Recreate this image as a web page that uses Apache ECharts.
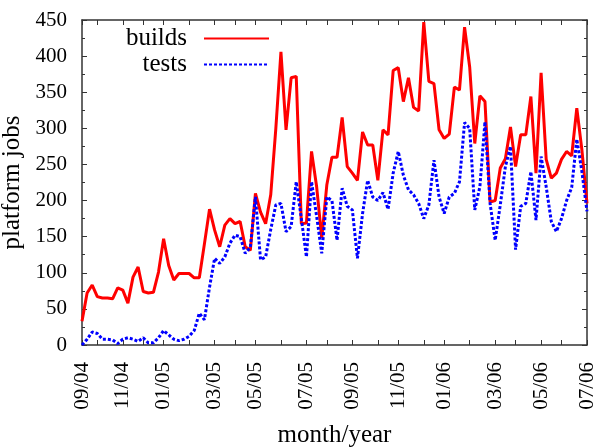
<!DOCTYPE html>
<html>
<head>
<meta charset="utf-8">
<script src="https://cdn.jsdelivr.net/npm/echarts@6/dist/echarts.min.js"></script>
<style>
  html, body { margin: 0; padding: 0; background: #fff; }
  #chart { width: 595px; height: 447px; }
</style>
</head>
<body>
<div id="chart"></div>
<script>
// weekly job counts, 09/04 .. 07/06
var builds = [33, 72, 83, 67, 65, 65, 64, 79, 76, 58,
  94, 108, 74, 72, 73, 101, 147, 110, 90, 99,
  99, 99, 93, 93, 140, 188, 159, 136, 166, 175,
  168, 171, 136, 131, 210, 184, 168, 208, 300, 406,
  298, 370, 372, 168, 169, 268, 219, 148, 222, 260,
  260, 315, 247, 238, 228, 295, 277, 277, 228, 298,
  291, 380, 384, 337, 370, 329, 324, 447, 365, 362,
  298, 286, 292, 357, 353, 440, 385, 279, 345, 337,
  198, 200, 245, 258, 302, 247, 291, 291, 344, 238,
  377, 257, 231, 238, 257, 268, 262, 328, 270, 196];

var tests = [0, 8, 18, 16, 8, 8, 7, 2, 8, 10,
  8, 5, 10, 3, 3, 10, 20, 14, 8, 6,
  8, 12, 20, 44, 35, 80, 120, 113, 122, 141,
  152, 150, 127, 135, 205, 118, 122, 160, 194, 196,
  157, 164, 226, 175, 122, 226, 178, 127, 205, 200,
  145, 217, 192, 187, 120, 182, 228, 205, 200, 211,
  188, 238, 268, 235, 215, 208, 196, 175, 194, 256,
  205, 182, 205, 210, 226, 308, 300, 187, 219, 309,
  196, 145, 194, 247, 275, 132, 192, 196, 240, 173,
  261, 219, 171, 157, 175, 200, 218, 285, 240, 185];

// week index where each month starts, and its label
var monthTickIdx = [0, 3, 8, 12, 16, 21, 26, 30, 34, 39, 44, 48,
  53, 58, 62, 67, 71, 76, 81, 85, 90, 94, 99];
var monthTickLabels = ['09/04', '10/04', '11/04', '12/04', '01/05', '02/05',
  '03/05', '04/05', '05/05', '06/05', '07/05', '08/05', '09/05', '10/05',
  '11/05', '12/05', '01/06', '02/06', '03/06', '04/06', '05/06', '06/06', '07/06'];

var weeks = builds.map(function (v, i) { return String(i); });

var FONT = '"Liberation Serif", "Times New Roman", serif';
var AXIS_COLOR = '#333';

var isMonthTick = function (index) {
  return monthTickIdx.indexOf(index) >= 0;
};
var isLabelTick = function (index) {
  var k = monthTickIdx.indexOf(index);
  return k >= 0 && k % 2 === 0;
};

var chart = echarts.init(document.getElementById('chart'));

var legendBase = function (name, top) {
  return {
    data: [name],
    right: 325,
    top: top,
    orient: 'vertical',
    align: 'right',
    itemWidth: 65,
    itemHeight: 14,
    padding: 0,
    selectedMode: false,
    itemStyle: { opacity: 0 },
    textStyle: {
      fontFamily: FONT,
      fontSize: 25,
      color: '#000',
      padding: [0, 12, 0, 0]
    }
  };
};

var xAxisBase = function (pos) {
  return {
    type: 'category',
    position: pos,
    data: weeks,
    boundaryGap: false,
    axisLine: { show: true, onZero: false, lineStyle: { color: AXIS_COLOR, width: 1.5 } },
    axisTick: {
      show: true,
      inside: true,
      length: 5,
      interval: isMonthTick,
      lineStyle: { color: AXIS_COLOR, width: 1 }
    },
    splitLine: { show: false }
  };
};

var yAxisBase = function (pos) {
  return {
    type: 'value',
    position: pos,
    min: 0,
    max: 450,
    interval: 50,
    axisLine: { show: true, lineStyle: { color: AXIS_COLOR, width: 1.5 } },
    axisTick: { show: true, inside: true, length: 5, lineStyle: { color: AXIS_COLOR } },
    minorTick: { show: true, splitNumber: 2, length: 3, lineStyle: { color: AXIS_COLOR } },
    splitLine: { show: false },
    minorSplitLine: { show: false }
  };
};

var bottomAxis = xAxisBase('bottom');
bottomAxis.name = 'month/year';
bottomAxis.nameLocation = 'middle';
bottomAxis.nameGap = 78;
bottomAxis.nameTextStyle = { fontFamily: FONT, fontSize: 25, color: '#000' };
bottomAxis.axisLabel = {
  show: true,
  interval: isLabelTick,
  rotate: 90,
  margin: 17,
  fontFamily: FONT,
  fontSize: 21,
  color: '#000',
  formatter: function (value, index) {
    var k = monthTickIdx.indexOf(index);
    return k >= 0 ? monthTickLabels[k] : '';
  }
};

var topAxis = xAxisBase('top');
topAxis.axisLabel = { show: false };

var leftAxis = yAxisBase('left');
leftAxis.name = 'platform jobs';
leftAxis.nameLocation = 'middle';
leftAxis.nameGap = 49;
leftAxis.nameTextStyle = { fontFamily: FONT, fontSize: 25, color: '#000' };
leftAxis.axisLabel = {
  show: true,
  margin: 15,
  fontFamily: FONT,
  fontSize: 21,
  color: '#000'
};

var rightAxis = yAxisBase('right');
rightAxis.axisLabel = { show: false };

chart.setOption({
  animation: false,
  backgroundColor: '#fff',
  grid: {
    left: 82, right: 8, top: 20, bottom: 102,
    containLabel: false,
    outerBoundsMode: 'none'
  },
  legend: [legendBase('builds', 26), legendBase('tests', 52)],
  xAxis: [bottomAxis, topAxis],
  yAxis: [leftAxis, rightAxis],
  series: [{
    name: 'builds',
    type: 'line',
    data: builds,
    xAxisIndex: 0,
    yAxisIndex: 0,
    symbol: 'none',
    smooth: false,
    color: '#ff0000',
    lineStyle: { color: '#ff0000', width: 3 }
  }, {
    name: 'tests',
    type: 'line',
    data: tests,
    xAxisIndex: 0,
    yAxisIndex: 0,
    symbol: 'none',
    smooth: false,
    color: '#0000ff',
    lineStyle: { color: '#0000ff', width: 3, type: [3, 2], cap: 'butt' }
  }]
});
</script>
</body>
</html>
